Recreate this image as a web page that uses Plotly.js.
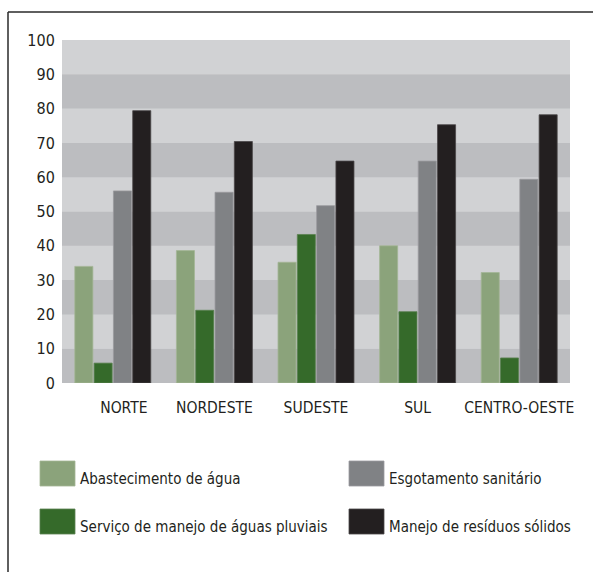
<!DOCTYPE html>
<html>
<head>
<meta charset="utf-8">
<script src="https://cdn.plot.ly/plotly-3.0.1.min.js"></script>
<style>
  html, body { margin: 0; padding: 0; background: #ffffff; }
  #chart { width: 593px; height: 572px; }
</style>
</head>
<body>
<div id="chart"></div>
<script>
// Regions of Brazil (x categories)
const regions = ['NORTE', 'NORDESTE', 'SUDESTE', 'SUL', 'CENTRO-OESTE'];
// Tick labels shown under each group
const regionLabels = ['\u00a0\u00a0\u00a0\u00a0\u00a0NORTE', 'NORDESTE', 'SUDESTE', 'SUL', 'CENTRO-OESTE'];

// Series names
const seriesNames = [
  'Abastecimento de água',
  'Serviço de manejo de águas pluviais',
  'Esgotamento sanitário',
  'Manejo de resíduos sólidos'
];

// Series values (%)
const abastecimento = [34, 38.6, 35.2, 40, 32.2];
const pluviais      = [5.8, 21.2, 43.3, 20.8, 7.3];
const esgotamento   = [56, 55.6, 51.7, 64.7, 59.4];
const residuos      = [79.4, 70.4, 64.7, 75.3, 78.2];

const seriesValues = [abastecimento, pluviais, esgotamento, residuos];
const seriesColors = ['#8ba37b', '#356a2a', '#808285', '#231f20'];
const seriesEdges  = ['#a3b596', '#5a8150', '#9a9b9e', '#4a4647'];

// Y axis ticks
const yTicks = [0, 10, 20, 30, 40, 50, 60, 70, 80, 90, 100];

const FONT = '"DejaVu Sans Condensed", "Liberation Sans", sans-serif';

// plot-area geometry (pixels)
const W = 593, H = 572;
const M = { l: 62, r: 23, t: 40, b: 189 };
const pw = W - M.l - M.r, ph = H - M.t - M.b;
const px = x => (x - M.l) / pw;
const py = y => (H - M.b - y) / ph;

const traces = seriesNames.map((name, i) => ({
  type: 'bar',
  name: name,
  x: regions,
  y: seriesValues[i],
  marker: { color: seriesColors[i], line: { color: seriesEdges[i], width: 0.8 } },
  hoverinfo: 'x+y+name',
  showlegend: false
}));

const shapes = [];
// alternating horizontal bands
for (let k = 0; k < yTicks.length - 1; k++) {
  shapes.push({
    type: 'rect', xref: 'paper', yref: 'y', layer: 'below',
    x0: 0, x1: 1, y0: yTicks[k], y1: yTicks[k + 1],
    fillcolor: (k % 2 === 0) ? '#bcbdc0' : '#d1d2d4',
    line: { width: 0 }
  });
}
// frame lines (top and left)
shapes.push({ type: 'line', xref: 'paper', yref: 'paper',
  x0: px(8), x1: px(W + 2), y0: py(12), y1: py(12),
  line: { color: '#2a2a2a', width: 1.5 } });
shapes.push({ type: 'line', xref: 'paper', yref: 'paper',
  x0: px(8), x1: px(8), y0: py(12), y1: py(H + 2),
  line: { color: '#2a2a2a', width: 1.5 } });

// legend: swatches + labels in a 2x2 grid
const legendOrder = [0, 2, 1, 3];
const colX = [40, 349];
const rowY = [461, 509];
const annotations = [];
legendOrder.forEach((s, j) => {
  const c = j % 2, r = Math.floor(j / 2);
  shapes.push({ type: 'rect', xref: 'paper', yref: 'paper',
    x0: px(colX[c]), x1: px(colX[c] + 35), y0: py(rowY[r]), y1: py(rowY[r] + 25),
    fillcolor: seriesColors[s], line: { color: seriesEdges[s], width: 0.8 } });
  annotations.push({ xref: 'paper', yref: 'paper',
    x: px(colX[c] + 38), y: py(rowY[r] + 18), xanchor: 'left', yanchor: 'middle',
    text: seriesNames[s], showarrow: false,
    font: { family: FONT, size: 15, color: '#231f20' } });
});

const layout = {
  width: W, height: H,
  margin: M,
  paper_bgcolor: '#ffffff',
  plot_bgcolor: '#d1d2d4',
  barmode: 'group',
  bargap: 0.24,
  bargroupgap: 0.065,
  showlegend: false,
  font: { family: FONT, color: '#231f20' },
  xaxis: {
    type: 'category',
    tickvals: regions, ticktext: regionLabels,
    showgrid: false, zeroline: false, showline: false,
    ticks: 'outside', ticklen: 10, tickcolor: 'rgba(0,0,0,0)',
    tickfont: { family: FONT, size: 15.5, color: '#231f20' }
  },
  yaxis: {
    range: [0, 100],
    tickvals: yTicks,
    showgrid: false, zeroline: false, showline: false,
    ticks: 'outside', ticklen: 3, tickcolor: 'rgba(0,0,0,0)',
    tickfont: { family: FONT, size: 16, color: '#231f20' }
  },
  shapes: shapes,
  annotations: annotations
};

Plotly.newPlot('chart', traces, layout, { displayModeBar: false, staticPlot: true });
</script>
</body>
</html>
